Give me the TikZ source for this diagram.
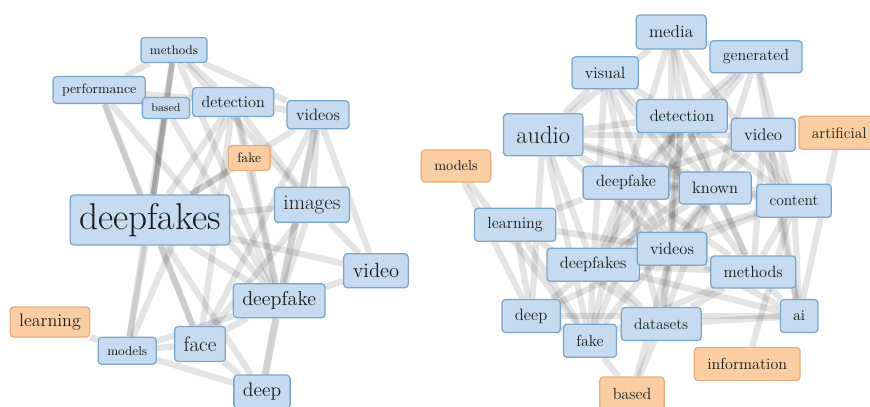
\documentclass[tikz,border=0pt]{standalone}
\usetikzlibrary{backgrounds}

\definecolor{wordfill}{RGB}{198,219,239}
\definecolor{wordline}{RGB}{118,166,204}
\definecolor{hotfill}{RGB}{250,206,162}
\definecolor{hotline}{RGB}{232,172,124}
\newcommand{\wsize}[1]{\fontsize{#1}{#1}\selectfont}

\tikzset{
  word/.style={draw=wordline, fill=wordfill, rounded corners=2.5pt, line width=0.9pt, inner ysep=0pt, text=black!90},
  hot/.style={word, draw=hotline, fill=hotfill},
  tight/.style={inner xsep=6.4pt},
  loose/.style={inner xsep=9.2pt},
  link/.style={line width=#1, draw=black, draw opacity=0.105},
  link/.default=4.5pt
}

\begin{document}
\begin{tikzpicture}
    \useasboundingbox (0,0) rectangle (21.75,10.15);

    % left network: terms
    \node[word, tight, minimum height=17.8pt, font=\wsize{9}] (lmethods) at (4.35,8.90) {methods};
    \node[word, tight, minimum height=19.2pt, font=\wsize{9.8}] (lperformance) at (2.48,7.90) {performance};
    \node[word, tight, minimum height=15pt, font=\wsize{8}] (lbased) at (4.15,7.45) {based};
    \node[word, tight, minimum height=20.6pt, font=\wsize{11.5}] (ldetection) at (5.83,7.60) {detection};
    \node[word, tight, minimum height=20pt, font=\wsize{11.8}] (lvideos) at (7.95,7.28) {videos};
    \node[hot, tight, minimum height=17.8pt, font=\wsize{9.7}] (lfake) at (6.23,6.20) {fake};
    \node[word, tight, minimum height=35.6pt, font=\wsize{26.5}] (ldeepfakes) at (3.75,4.65) {deepfakes};
    \node[word, tight, minimum height=24.9pt, font=\wsize{15}] (limages) at (7.80,5.03) {images};
    \node[word, tight, minimum height=24.2pt, font=\wsize{14.6}] (lvideo) at (9.40,3.38) {video};
    \node[word, tight, minimum height=24.2pt, font=\wsize{14.3}] (ldeepfake) at (6.98,2.63) {deepfake};
    \node[hot, tight, minimum height=21.3pt, font=\wsize{12.8}] (llearning) at (1.25,2.10) {learning};
    \node[word, tight, minimum height=19.2pt, font=\wsize{9.1}] (lmodels) at (3.18,1.38) {models};
    \node[word, tight, minimum height=24.9pt, font=\wsize{15}] (lface) at (5.00,1.55) {face};
    \node[word, tight, minimum height=23.5pt, font=\wsize{13.9}] (ldeep) at (6.55,0.36) {deep};

    % right network: terms
    \node[word, loose, minimum height=24.2pt, font=\wsize{12.3}] (rmedia) at (16.78,9.35) {media};
    \node[word, loose, minimum height=22.8pt, font=\wsize{11.4}] (rgenerated) at (18.90,8.73) {generated};
    \node[word, loose, minimum height=22.8pt, font=\wsize{11.6}] (rvisual) at (15.13,8.33) {visual};
    \node[word, loose, minimum height=23.5pt, font=\wsize{11.7}] (rdetection) at (17.05,7.25) {detection};
    \node[word, loose, minimum height=29.9pt, font=\wsize{17.4}] (raudio) at (13.58,6.78) {audio};
    \node[word, loose, minimum height=23.5pt, font=\wsize{12}] (rvideo) at (19.08,6.78) {video};
    \node[hot, loose, minimum height=23.5pt, font=\wsize{11}] (rartificial) at (20.98,6.83) {artificial};
    \node[hot, loose, minimum height=22.8pt, font=\wsize{10.2}] (rmodels) at (11.40,6.00) {models};
    \node[word, loose, minimum height=23.5pt, font=\wsize{11.6}] (rdeepfake) at (15.65,5.58) {deepfake};
    \node[word, loose, minimum height=22.8pt, font=\wsize{11.8}] (rknown) at (17.88,5.45) {known};
    \node[word, loose, minimum height=23.5pt, font=\wsize{11}] (rcontent) at (19.85,5.13) {content};
    \node[word, loose, minimum height=23.5pt, font=\wsize{11.5}] (rlearning) at (12.88,4.53) {learning};
    \node[word, loose, minimum height=23.5pt, font=\wsize{11.7}] (rdeepfakes) at (14.83,3.53) {deepfakes};
    \node[word, loose, minimum height=23.5pt, font=\wsize{11.8}] (rvideos) at (16.80,3.93) {videos};
    \node[word, loose, minimum height=22.8pt, font=\wsize{11.6}] (rmethods) at (18.83,3.35) {methods};
    \node[word, loose, minimum height=23.5pt, font=\wsize{11.8}] (rdeep) at (13.28,2.25) {deep};
    \node[word, loose, minimum height=23.5pt, font=\wsize{11.3}] (rfake) at (14.75,1.63) {fake};
    \node[word, loose, minimum height=23.5pt, font=\wsize{11}] (rdatasets) at (16.53,2.05) {datasets};
    \node[word, loose, minimum height=23.5pt, font=\wsize{10.7}] (rai) at (19.98,2.25) {ai};
    \node[hot, loose, minimum height=23.5pt, font=\wsize{11.4}] (rinformation) at (18.68,1.05) {information};
    \node[hot, loose, minimum height=23.5pt, font=\wsize{11.4}] (rbased) at (15.80,0.31) {based};

    \begin{pgfonlayer}{background}
    % left network: co-occurrence links
    \draw[link] (lmethods) -- (lperformance);
    \draw[link=4pt, draw opacity=0.2] (lmethods) -- (ldeepfakes);
    \draw[link] (lmethods) -- (lmodels);
    \draw[link] (lmethods) -- (ldetection);
    \draw[link] (lmethods) -- (lvideos);
    \draw[link] (lmethods) -- (limages);
    \draw[link] (lmethods) -- (ldeepfake);
    \draw[link] (lperformance) -- (ldetection);
    \draw[link] (lperformance) -- (ldeepfakes);
    \draw[link] (lperformance) -- (lface);
    \draw[link] (lperformance) -- (ldeepfake);
    \draw[link] (lbased) -- (ldeepfakes);
    \draw[link] (lbased) -- (ldeepfake);
    \draw[link] (ldetection) -- (lvideos);
    \draw[link] (ldetection) -- (ldeepfakes);
    \draw[link] (ldetection) -- (ldeepfake);
    \draw[link] (ldetection) -- (lface);
    \draw[link] (ldetection) -- (limages);
    \draw[link] (ldetection) -- (lmodels);
    \draw[link] (ldetection) -- (lfake);
    \draw[link=5pt, draw opacity=0.18] (lvideos) -- (ldeepfake);
    \draw[link] (lvideos) -- (lvideo);
    \draw[link] (lvideos) -- (lface);
    \draw[link] (lvideos) -- (ldeepfakes);
    \draw[link] (lvideos) -- (limages);
    \draw[link] (lfake) -- (ldeepfake);
    \draw[link] (lfake) -- (ldeepfakes);
    \draw[link] (limages) -- (ldeepfakes);
    \draw[link] (limages) -- (ldeepfake);
    \draw[link] (limages) -- (lvideo);
    \draw[link] (limages) -- (lface);
    \draw[link] (lvideo) -- (ldeepfake);
    \draw[link] (lvideo) -- (ldeepfakes);
    \draw[link] (ldeepfakes) -- (ldeepfake);
    \draw[link] (ldeepfakes) -- (lface);
    \draw[link] (ldeepfakes) -- (ldeep);
    \draw[link] (ldeepfakes) -- (lmodels);
    \draw[link] (ldeepfake) -- (lface);
    \draw[link=5pt, draw opacity=0.18] (ldeepfake) -- (ldeep);
    \draw[link] (ldeepfake) -- (lmodels);
    \draw[link] (lmodels) -- (llearning);
    \draw[link] (lmodels) -- (lface);
    \draw[link] (lmodels) -- (ldeep);
    \draw[link] (lface) -- (ldeep);

    % right network: co-occurrence links
    \draw[link] (rmedia) -- (raudio);
    \draw[link] (rmedia) -- (rgenerated);
    \draw[link] (rmedia) -- (rdetection);
    \draw[link] (rmedia) -- (rdeepfake);
    \draw[link] (rmedia) -- (rknown);
    \draw[link] (rmedia) -- (rcontent);
    \draw[link] (rmedia) -- (rvideos);
    \draw[link] (rgenerated) -- (rdeepfake);
    \draw[link] (rgenerated) -- (rdeepfakes);
    \draw[link] (rgenerated) -- (rcontent);
    \draw[link] (rgenerated) -- (rai);
    \draw[link] (rgenerated) -- (rknown);
    \draw[link] (rgenerated) -- (rdetection);
    \draw[link] (rvisual) -- (raudio);
    \draw[link] (rvisual) -- (rdetection);
    \draw[link] (rvisual) -- (rdeepfake);
    \draw[link] (rvisual) -- (rvideos);
    \draw[link] (rvisual) -- (rdeepfakes);
    \draw[link] (rvisual) -- (rknown);
    \draw[link] (rvisual) -- (rmethods);
    \draw[link] (raudio) -- (rdetection);
    \draw[link] (raudio) -- (rdeepfake);
    \draw[link] (raudio) -- (rdeepfakes);
    \draw[link] (raudio) -- (rdeep);
    \draw[link] (raudio) -- (rfake);
    \draw[link] (raudio) -- (rvideos);
    \draw[link] (raudio) -- (rknown);
    \draw[link] (raudio) -- (rcontent);
    \draw[link] (raudio) -- (rvideo);
    \draw[link] (rdetection) -- (rvideo);
    \draw[link] (rdetection) -- (rknown);
    \draw[link] (rdetection) -- (rvideos);
    \draw[link] (rdetection) -- (rdeepfakes);
    \draw[link] (rdetection) -- (rfake);
    \draw[link] (rdetection) -- (rmethods);
    \draw[link] (rdetection) -- (rdatasets);
    \draw[link] (rdetection) -- (rcontent);
    \draw[link] (rvideo) -- (rdeepfake);
    \draw[link] (rvideo) -- (rcontent);
    \draw[link] (rvideo) -- (rvideos);
    \draw[link] (rvideo) -- (rdeepfakes);
    \draw[link] (rvideo) -- (rmethods);
    \draw[link] (rvideo) -- (rai);
    \draw[link] (rartificial) -- (rai);
    \draw[link] (rcontent) -- (rinformation);
    \draw[link] (rcontent) -- (rai);
    \draw[link] (rmodels) -- (rdeep);
    \draw[link] (rmodels) -- (rfake);
    \draw[link] (rlearning) -- (rdeepfake);
    \draw[link] (rlearning) -- (rdeep);
    \draw[link] (rlearning) -- (rfake);
    \draw[link] (rlearning) -- (rvideos);
    \draw[link] (rlearning) -- (rdatasets);
    \draw[link] (rdeepfake) -- (rknown);
    \draw[link] (rdeepfake) -- (rvideos);
    \draw[link] (rdeepfake) -- (rdeepfakes);
    \draw[link] (rdeepfake) -- (rfake);
    \draw[link] (rdeepfake) -- (rdatasets);
    \draw[link] (rdeepfake) -- (rmethods);
    \draw[link] (rdeepfake) -- (rcontent);
    \draw[link] (rknown) -- (rvideos);
    \draw[link] (rknown) -- (rdeepfakes);
    \draw[link] (rknown) -- (rmethods);
    \draw[link] (rknown) -- (rcontent);
    \draw[link] (rknown) -- (rfake);
    \draw[link] (rknown) -- (rdatasets);
    \draw[link] (rcontent) -- (rdeepfakes);
    \draw[link] (rcontent) -- (rvideos);
    \draw[link] (rcontent) -- (rmethods);
    \draw[link] (rvideos) -- (rmethods);
    \draw[link] (rvideos) -- (rai);
    \draw[link] (rvideos) -- (rdatasets);
    \draw[link] (rvideos) -- (rbased);
    \draw[link] (rvideos) -- (rdeep);
    \draw[link] (rdeepfakes) -- (rdeep);
    \draw[link] (rdeepfakes) -- (rfake);
    \draw[link] (rdeepfakes) -- (rai);
    \draw[link] (rdeepfakes) -- (rmethods);
    \draw[link] (rdeepfakes) -- (rdatasets);
    \draw[link] (rmethods) -- (rai);
    \draw[link] (rmethods) -- (rdatasets);
    \draw[link] (rmethods) -- (rfake);
    \draw[link] (rdeep) -- (rai);
    \draw[link] (rdeep) -- (rfake);
    \draw[link] (rfake) -- (rbased);
    \draw[link] (rdatasets) -- (rbased);
    \draw[link] (rdatasets) -- (rai);
    \end{pgfonlayer}

\end{tikzpicture}
\end{document}
